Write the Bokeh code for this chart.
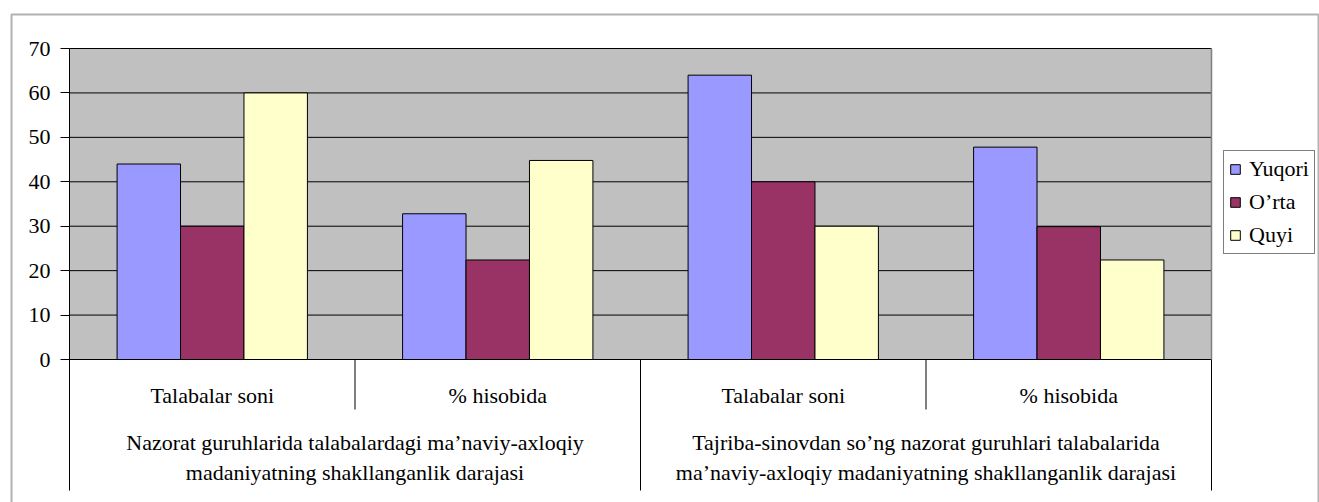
from bokeh.plotting import figure
from bokeh.models import Range1d, FixedTicker, Legend, LegendItem, BoxAnnotation, ColumnDataSource, LinearAxis
from bokeh.core.properties import value
from bokeh.embed import file_html
from bokeh.resources import INLINE

# ---- data ----
subcategories = ["Talabalar soni", "% hisobida", "Talabalar soni", "% hisobida"]
groups = [
    "Nazorat guruhlarida talabalardagi ma\u2019naviy-axloqiy\nmadaniyatning shakllanganlik darajasi",
    "Tajriba-sinovdan so\u2019ng nazorat guruhlari talabalarida\nma\u2019naviy-axloqiy madaniyatning shakllanganlik darajasi",
]
series = ["Yuqori", "O\u2019rta", "Quyi"]
yuqori = [44, 32.8, 64, 47.8]
orta = [30, 22.4, 40, 29.9]
quyi = [60, 44.8, 30, 22.4]
y_ticks = [0, 10, 20, 30, 40, 50, 60, 70]
colors = ["#9999FF", "#993366", "#FFFFCC"]

FONT = "Times New Roman"
FS = "22px"
n = len(subcategories)
ymax = max(y_ticks)

# layout (pixels on the canvas)
W, H = 1319, 502
X0, Y0 = 69, 359              # canvas position of data (0, 0)
PX_X = 285.5                  # pixels per category
PX_Y = 311.0 / ymax           # pixels per unit
y_bottom = -(490 - Y0) / PX_Y # lower end of the axis/divider lines

p = figure(width=W, height=H, output_backend="svg", toolbar_location=None,
           x_range=Range1d(-X0 / PX_X, (W - X0) / PX_X),
           y_range=Range1d(-(H - Y0) / PX_Y, Y0 / PX_Y),
           x_axis_location=None, y_axis_location=None,
           min_border=0, min_border_left=0, min_border_right=0, min_border_top=0, min_border_bottom=0,
           background_fill_color="white", border_fill_color="white", outline_line_color=None)
p.grid.visible = False

# plot area background, gridlines and right edge
p.quad(left=[0], right=[n], bottom=[0], top=[ymax], fill_color="#C0C0C0", line_color=None)
p.segment(x0=[0] * len(y_ticks), y0=y_ticks, x1=[n] * len(y_ticks), y1=y_ticks,
          line_color="black", line_width=1)
p.segment(x0=[n], y0=[0], x1=[n], y1=[ymax], line_color="#808080", line_width=1.5)

# bars
w = 1 / 4.5
offsets = [-w, 0, w]
renderers = []
for k, (vals, col) in enumerate(zip([yuqori, orta, quyi], colors)):
    src = ColumnDataSource(dict(x=[i + 0.5 + offsets[k] for i in range(n)], top=vals))
    r = p.vbar(x="x", top="top", bottom=0, width=w, source=src,
               fill_color=col, line_color="black", line_width=1)
    renderers.append(r)

# category divider lines
short_x = [i for i in range(1, n) if i % 2 == 1]
long_x = [i for i in range(2, n + 1) if i % 2 == 0]
p.segment(x0=short_x, y0=[0] * len(short_x), x1=short_x, y1=[-50 / PX_Y] * len(short_x),
          line_color="black", line_width=1)
p.segment(x0=long_x, y0=[0] * len(long_x), x1=long_x, y1=[y_bottom] * len(long_x),
          line_color="black", line_width=1)

# y axis fixed at x = 0
yax = LinearAxis(fixed_location=0, bounds=(y_bottom, ymax), ticker=FixedTicker(ticks=y_ticks))
yax.major_tick_in = 0
yax.major_tick_out = 9
yax.minor_tick_line_color = None
yax.major_label_standoff = 10
yax.major_label_text_font = FONT
yax.major_label_text_font_size = FS
yax.major_label_text_color = "black"
yax.axis_line_color = "black"
yax.major_tick_line_color = "black"
p.add_layout(yax, "left")

# category labels
p.text(x=[i + 0.5 for i in range(n)], y=[-36 / PX_Y] * n, text=subcategories,
       text_font=value(FONT), text_font_size=FS, text_color="black",
       text_align="center", text_baseline="middle")
p.text(x=[2 * g + 1 for g in range(len(groups))], y=[-98 / PX_Y] * len(groups), text=groups,
       text_font=value(FONT), text_font_size=FS, text_color="black",
       text_align="center", text_baseline="middle", text_line_height=1.18)

legend = Legend(items=[LegendItem(label=s, renderers=[r]) for s, r in zip(series, renderers)],
                location=(1223, 248))
legend.border_line_color = "black"
legend.border_line_width = 1
legend.background_fill_color = "white"
legend.background_fill_alpha = 1
legend.label_text_font = FONT
legend.label_text_font_size = FS
legend.label_text_color = "black"
legend.glyph_width = 12
legend.glyph_height = 12
legend.padding = 5
legend.spacing = 7
legend.margin = 0
legend.label_standoff = 8
p.add_layout(legend)

# outer chart border
border = BoxAnnotation(left=(11 - X0) / PX_X, right=(1318 - X0) / PX_X,
                       top=(Y0 - 14) / PX_Y, bottom=-(H + 50 - Y0) / PX_Y,
                       fill_alpha=0, fill_color=None, line_color="black", line_width=2)
p.add_layout(border)

open("out.html", "w").write(file_html(p, INLINE))
